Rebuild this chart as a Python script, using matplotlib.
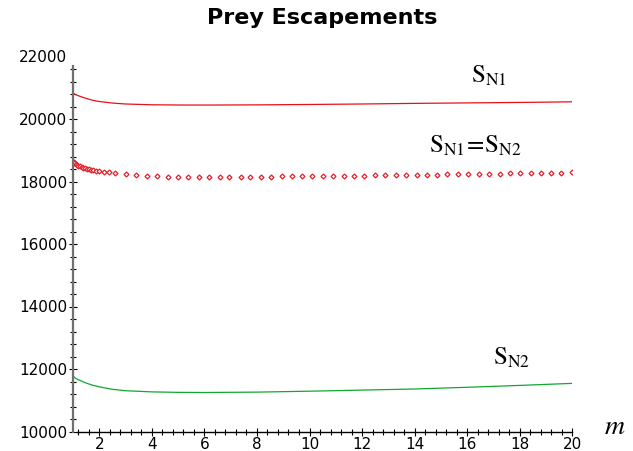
import matplotlib
matplotlib.use('Agg')
import matplotlib.pyplot as plt
from matplotlib.ticker import MultipleLocator

plt.rcParams['mathtext.fontset'] = 'stix'

# S_N1 (solid red)
m_n1 = [1.0, 1.1, 1.25, 1.5, 1.75, 2.0, 2.5, 3.0, 4.0, 5.0, 6.0, 8.0, 10.0, 12.0, 14.0, 16.0, 18.0, 20.0]
s_n1 = [20830, 20780, 20730, 20660, 20600, 20560, 20510, 20480, 20455, 20448, 20446, 20452, 20465, 20480, 20500, 20515, 20530, 20550]

# S_N2 (solid green)
m_n2 = [1.0, 1.1, 1.25, 1.5, 1.75, 2.0, 2.5, 3.0, 4.0, 5.0, 6.0, 8.0, 10.0, 12.0, 14.0, 16.0, 18.0, 20.0]
s_n2 = [11776, 11700, 11640, 11550, 11480, 11430, 11350, 11305, 11268, 11252, 11248, 11260, 11290, 11325, 11360, 11415, 11475, 11540]

# S_N1 = S_N2 (diamond points)
m_eq = [1.0, 1.03, 1.05, 1.1, 1.15, 1.2, 1.26, 1.33, 1.39, 1.46, 1.53, 1.61, 1.68, 1.77, 1.86,
        2.0, 2.19, 2.38, 2.6, 3.02, 3.41, 3.80, 4.21, 4.60, 5.00, 5.38, 5.79, 6.18, 6.59, 6.94,
        7.38, 7.73, 8.14, 8.53, 8.94, 9.33, 9.72, 10.11, 10.51, 10.91, 11.30, 11.68, 12.08, 12.48,
        12.87, 13.28, 13.69, 14.09, 14.46, 14.85, 15.25, 15.65, 16.03, 16.45, 16.84, 17.24, 17.63,
        18.01, 18.41, 18.79, 19.19, 19.58, 19.99]
s_eq = [18634, 18610, 18595, 18565, 18535, 18510, 18485, 18460, 18440, 18420, 18402, 18385, 18372, 18358, 18347,
        18332, 18310, 18290, 18265, 18228, 18200, 18180, 18168, 18160, 18155, 18152, 18150, 18149, 18149, 18150,
        18151, 18153, 18155, 18158, 18161, 18164, 18167, 18170, 18174, 18177, 18181, 18185, 18189, 18193,
        18197, 18202, 18206, 18211, 18215, 18220, 18225, 18230, 18235, 18241, 18246, 18252, 18257,
        18263, 18269, 18275, 18281, 18287, 18293]

x_ticks = [2, 4, 6, 8, 10, 12, 14, 16, 18, 20]
y_ticks = [10000, 12000, 14000, 16000, 18000, 20000, 22000]

fig = plt.figure(figsize=(6.33, 4.51), dpi=100)
ax = fig.add_axes([73 / 633, 19.5 / 451, 499.3 / 633, 375 / 451])

ax.plot(m_n1, s_n1, color='#e8101a', linewidth=0.9)
ax.plot(m_n2, s_n2, color='#10a830', linewidth=0.9)
ax.plot(m_eq, s_eq, linestyle='none', marker='D', markersize=2.5,
        markerfacecolor='white', markeredgecolor='#e8202a', markeredgewidth=0.9)

ax.set_xlim(1, 20)
ax.set_ylim(10000, 22000)

ax.set_xticks(x_ticks)
ax.set_yticks(y_ticks)
ax.xaxis.set_minor_locator(MultipleLocator(0.4))
ax.yaxis.set_minor_locator(MultipleLocator(400))

ax.spines['top'].set_visible(False)
ax.spines['right'].set_visible(False)
ax.spines['left'].set_color('#707070')
ax.spines['left'].set_linewidth(1.6)
ax.spines['left'].set_bounds(10000, 21700)
ax.spines['bottom'].set_bounds(1.15, 20)
ax.spines['bottom'].set_linewidth(1.0)

ax.tick_params(axis='both', which='major', direction='inout', length=6, width=0.8,
               labelsize=11, colors='black')
ax.tick_params(axis='both', which='minor', direction='inout', length=5, width=0.8)
ax.tick_params(axis='y', which='major', pad=1)
ax.tick_params(axis='x', which='major', pad=1)
ax.yaxis.get_major_ticks()[-1].tick1line.set_visible(False)

# curve labels
ax.text(16.13, 21152, r'$\mathrm{S}_{\mathrm{N1}}$', fontsize=18, va='baseline', ha='left')
ax.text(14.54, 18912, r'$\mathrm{S}_{\mathrm{N1}}\!=\!\mathrm{S}_{\mathrm{N2}}$', fontsize=18,
        va='baseline', ha='left')
ax.text(16.97, 12128, r'$\mathrm{S}_{\mathrm{N2}}$', fontsize=18, va='baseline', ha='left')
ax.text(21.2, 9920, r'$m$', fontsize=20, va='baseline', ha='left', clip_on=False)

fig.text(322.5 / 633, 1 - 18 / 451, 'Prey Escapements', ha='center', va='center',
         fontsize=16, fontweight='bold')

fig.savefig('out.png', dpi=100)
